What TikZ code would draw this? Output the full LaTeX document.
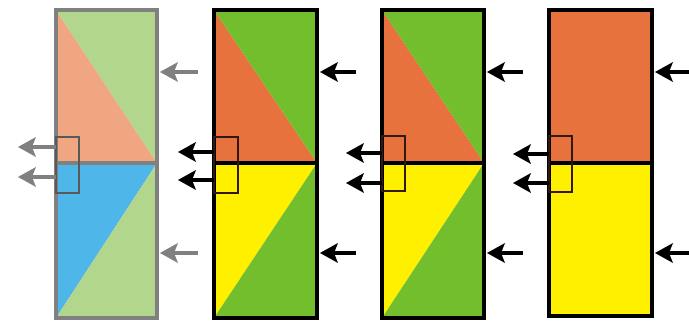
\documentclass[tikz,border=0pt]{standalone}
\definecolor{salmon}{RGB}{241,166,130}
\definecolor{lgreen}{RGB}{178,214,140}
\definecolor{lblue}{RGB}{78,182,232}
\definecolor{bgray}{RGB}{128,128,128}
\definecolor{orng}{RGB}{232,114,62}
\definecolor{grn}{RGB}{114,190,44}
\definecolor{ylw}{RGB}{255,240,0}
\definecolor{dbrown}{RGB}{50,25,15}
\tikzset{
  x=1pt,y=-1pt,
  shaft/.style={line width=3.5pt},
  frame/.style={line width=3.8pt},
  marker/.style={line width=1.8pt}
}
% #1 colour, #2 start coordinate, #3 tip coordinate (arrow points left)
\newcommand\mkarrow[3]{%
  \draw[shaft,#1] (#2) -- ([xshift=12pt]#3);
  \fill[#1] (#3) -- ++(18,-10) -- ++(-4,10) -- ++(4,10) -- cycle;}
\begin{document}
\begin{tikzpicture}
\useasboundingbox (0,0) rectangle (689,323);
% Panel 1
\fill[salmon] (56,10) -- (56,163) -- (157,163) -- cycle;
\fill[lgreen] (56,10) -- (157,10) -- (157,163) -- cycle;
\fill[lblue] (56,163) -- (157,163) -- (56,318) -- cycle;
\fill[lgreen] (157,163) -- (157,318) -- (56,318) -- cycle;
\draw[frame,bgray] (56,10) rectangle (157,318);
\draw[frame,bgray] (56,163) -- (157,163);
\draw[marker,black!65] (56,137) rectangle (79,193);
\coordinate (p1l1) at (56,147); \coordinate (p1l1e) at (18,147);
\coordinate (p1l2) at (56,177); \coordinate (p1l2e) at (18,177);
\mkarrow{bgray}{p1l1}{p1l1e}
\mkarrow{bgray}{p1l2}{p1l2e}
\coordinate (p1r1) at (198,72); \coordinate (p1r1e) at (160,72);
\coordinate (p1r2) at (198,253); \coordinate (p1r2e) at (160,253);
\mkarrow{bgray}{p1r1}{p1r1e}
\mkarrow{bgray}{p1r2}{p1r2e}
% Panel 2
\fill[orng] (214,10) -- (214,163) -- (317,163) -- cycle;
\fill[grn] (214,10) -- (317,10) -- (317,163) -- cycle;
\fill[ylw] (214,163) -- (317,163) -- (214,318) -- cycle;
\fill[grn] (317,163) -- (317,318) -- (214,318) -- cycle;
\draw[frame,black] (214,10) rectangle (317,318);
\draw[frame,black] (214,163) -- (317,163);
\draw[marker,dbrown] (214,137) rectangle (238,193);
\coordinate (p2l1) at (214,152); \coordinate (p2l1e) at (178,152);
\coordinate (p2l2) at (214,180); \coordinate (p2l2e) at (178,180);
\mkarrow{black}{p2l1}{p2l1e}
\mkarrow{black}{p2l2}{p2l2e}
\coordinate (p2r1) at (356,72); \coordinate (p2r1e) at (320,72);
\coordinate (p2r2) at (356,253); \coordinate (p2r2e) at (320,253);
\mkarrow{black}{p2r1}{p2r1e}
\mkarrow{black}{p2r2}{p2r2e}
% Panel 3
\fill[orng] (382,10) -- (382,163) -- (484,163) -- cycle;
\fill[grn] (382,10) -- (484,10) -- (484,163) -- cycle;
\fill[ylw] (382,163) -- (484,163) -- (382,318) -- cycle;
\fill[grn] (484,163) -- (484,318) -- (382,318) -- cycle;
\draw[frame,black] (382,10) rectangle (484,318);
\draw[frame,black] (382,163) -- (484,163);
\draw[marker,dbrown] (382,136) rectangle (405,191);
\coordinate (p3l1) at (382,153); \coordinate (p3l1e) at (346,153);
\coordinate (p3l2) at (382,183); \coordinate (p3l2e) at (346,183);
\mkarrow{black}{p3l1}{p3l1e}
\mkarrow{black}{p3l2}{p3l2e}
\coordinate (p3r1) at (523,72); \coordinate (p3r1e) at (487,72);
\coordinate (p3r2) at (523,253); \coordinate (p3r2e) at (487,253);
\mkarrow{black}{p3r1}{p3r1e}
\mkarrow{black}{p3r2}{p3r2e}
% Panel 4
\fill[orng] (549,10) rectangle (652,163);
\fill[ylw] (549,163) rectangle (652,316);
\draw[frame,black] (549,10) rectangle (652,316);
\draw[frame,black] (549,163) -- (652,163);
\draw[marker,dbrown] (549,136) rectangle (572,192);
\coordinate (p4l1) at (549,154); \coordinate (p4l1e) at (513,154);
\coordinate (p4l2) at (549,183); \coordinate (p4l2e) at (513,183);
\mkarrow{black}{p4l1}{p4l1e}
\mkarrow{black}{p4l2}{p4l2e}
\coordinate (p4r1) at (689,72); \coordinate (p4r1e) at (655,72);
\coordinate (p4r2) at (689,253); \coordinate (p4r2e) at (655,253);
\mkarrow{black}{p4r1}{p4r1e}
\mkarrow{black}{p4r2}{p4r2e}
\end{tikzpicture}
\end{document}
